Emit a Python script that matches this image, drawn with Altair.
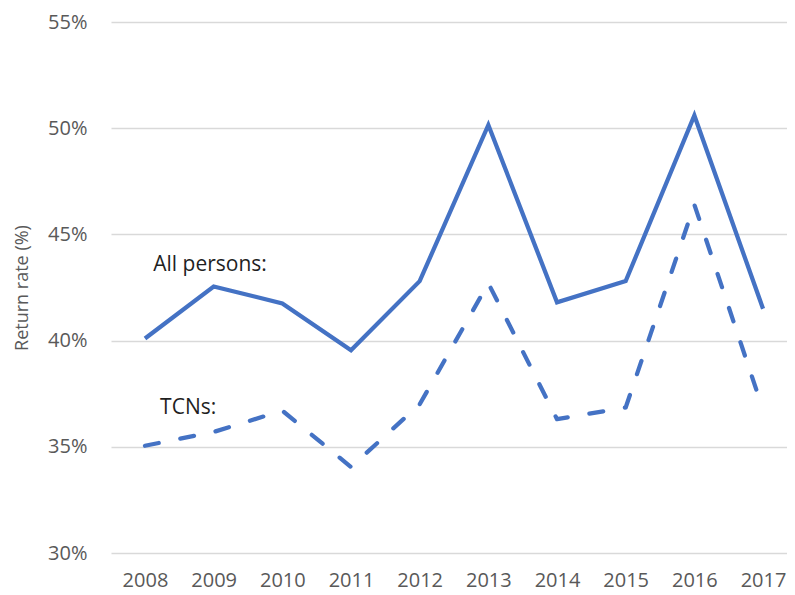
import altair as alt
import pandas as pd

years = list(range(2008, 2018))
all_persons = [40.1, 42.55, 41.75, 39.55, 42.8, 50.15, 41.8, 42.8, 50.6, 41.5]
tcns = [35.05, 35.7, 36.7, 34.05, 37.0, 42.7, 36.3, 36.85, 46.4, 36.75]
y_ticks = [30, 35, 40, 45, 50, 55]

label_text = ["All persons:", "TCNs:"]
label_year = [2008.12, 2008.22]
label_rate = [43.58, 36.85]

df = pd.DataFrame({
    "year": years * 2,
    "rate": [v / 100 for v in all_persons + tcns],
    "series": ["All persons"] * len(years) + ["TCNs"] * len(years),
})
lab = pd.DataFrame({
    "text": label_text,
    "year": label_year,
    "rate": [v / 100 for v in label_rate],
})

FONT = "Open Sans"
BLUE = "#4472C4"

x_enc = alt.X(
    "year:Q",
    scale=alt.Scale(domain=[2007.505, 2017.349], nice=False, zero=False),
    axis=alt.Axis(values=years, format="d", grid=False, ticks=False, domain=False,
                  labelFontSize=20, labelColor="#595959", labelPadding=17,
                  labelFont=FONT, title=None, labelBound=False, labelOverlap=False),
)
y_enc = alt.Y(
    "rate:Q",
    scale=alt.Scale(domain=[0.30, 0.55], nice=False, zero=False),
    axis=alt.Axis(values=[v / 100 for v in y_ticks], format=".0%", grid=True,
                  gridColor="#d9d9d9", gridWidth=1.5, ticks=False, domain=False,
                  labelFontSize=20, labelColor="#595959", labelPadding=24, labelFont=FONT,
                  title="Return rate (%)", titleFontSize=18, titleColor="#595959",
                  titleFontWeight="normal", titleFont=FONT, titleX=-89, titleY=265.5,
                  titleAngle=-90, titleAlign="center", titleBaseline="middle"),
)

base = alt.Chart(df).encode(x=x_enc, y=y_enc)
solid = base.transform_filter(alt.datum.series == "All persons").mark_line(
    color=BLUE, strokeWidth=4.25, strokeJoin="miter")
dashed = base.transform_filter(alt.datum.series == "TCNs").mark_line(
    color=BLUE, strokeWidth=4.25, strokeDash=[14, 22], strokeCap="round", strokeJoin="round")

texts = alt.Chart(lab).mark_text(
    align="left", baseline="middle", fontSize=21, font=FONT, color="#1f1f1f"
).encode(x=alt.X("year:Q"), y=alt.Y("rate:Q"), text="text:N")

chart = alt.layer(solid, dashed, texts).properties(
    width=676, height=531,
    autosize=alt.AutoSizeParams(type="none"),
    padding={"left": 103, "top": 14, "right": 0, "bottom": 40},
    background="white",
).configure_view(stroke=None)

chart.save("out.html", embed_options={"renderer": "svg", "actions": False})
